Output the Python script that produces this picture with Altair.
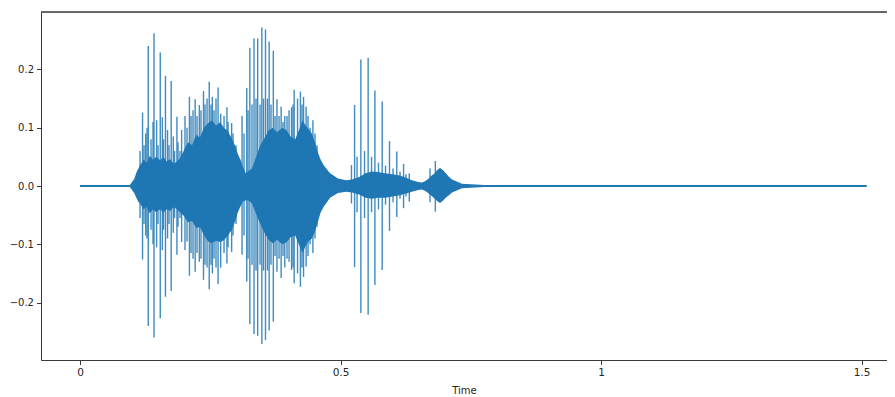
import altair as alt
import pandas as pd

# ---- data (time in s, amplitude) ----
base_t = [0.0, 1.51]
base_v = [0.0, 0.0]

# dense body of the waveform (upper / lower edge)
env_t = [0.096, 0.104, 0.109, 0.115, 0.122, 0.128, 0.134, 0.140, 0.146, 0.154,
         0.160, 0.166, 0.173, 0.180, 0.186, 0.192, 0.200, 0.207, 0.215, 0.223,
         0.230, 0.238, 0.246, 0.253, 0.261, 0.269, 0.276, 0.284, 0.292, 0.298,
         0.303, 0.308, 0.313, 0.318, 0.322, 0.330, 0.338, 0.346, 0.354, 0.362,
         0.370, 0.378, 0.388, 0.396, 0.404, 0.413, 0.420, 0.427, 0.432, 0.438,
         0.445, 0.451, 0.457, 0.462, 0.468, 0.480, 0.495, 0.511, 0.522, 0.537,
         0.548, 0.560, 0.572, 0.585, 0.600, 0.614, 0.626, 0.637, 0.649, 0.656,
         0.662, 0.668, 0.675, 0.681, 0.686, 0.691, 0.697, 0.702, 0.708, 0.714,
         0.722, 0.733, 0.750, 0.768, 0.806]
env_hi = [0.002, 0.012, 0.025, 0.035, 0.045, 0.040, 0.052, 0.045, 0.050, 0.044,
          0.050, 0.042, 0.046, 0.038, 0.042, 0.048, 0.062, 0.075, 0.070, 0.088,
          0.083, 0.100, 0.108, 0.113, 0.104, 0.110, 0.100, 0.094, 0.080, 0.068,
          0.055, 0.045, 0.032, 0.022, 0.025, 0.030, 0.050, 0.070, 0.082, 0.095,
          0.100, 0.092, 0.100, 0.096, 0.085, 0.080, 0.095, 0.113, 0.105, 0.098,
          0.090, 0.075, 0.056, 0.045, 0.035, 0.022, 0.013, 0.010, 0.011, 0.016,
          0.022, 0.025, 0.024, 0.022, 0.020, 0.018, 0.014, 0.010, 0.007, 0.006,
          0.008, 0.012, 0.018, 0.022, 0.028, 0.031, 0.027, 0.022, 0.016, 0.011,
          0.008, 0.004, 0.003, 0.002, 0.000]
env_lo = [-0.002, -0.012, -0.022, -0.030, -0.040, -0.036, -0.047, -0.040, -0.045, -0.040,
          -0.046, -0.040, -0.043, -0.036, -0.040, -0.045, -0.052, -0.062, -0.060, -0.072,
          -0.070, -0.085, -0.095, -0.098, -0.094, -0.096, -0.093, -0.085, -0.074, -0.060,
          -0.045, -0.035, -0.026, -0.025, -0.024, -0.030, -0.048, -0.065, -0.080, -0.092,
          -0.098, -0.092, -0.100, -0.097, -0.088, -0.085, -0.100, -0.115, -0.105, -0.095,
          -0.090, -0.078, -0.060, -0.045, -0.035, -0.020, -0.012, -0.010, -0.011, -0.015,
          -0.020, -0.022, -0.020, -0.020, -0.018, -0.016, -0.013, -0.010, -0.007, -0.006,
          -0.008, -0.012, -0.017, -0.022, -0.026, -0.029, -0.025, -0.020, -0.016, -0.011,
          -0.008, -0.004, -0.003, -0.002, 0.000]

# tall individual peaks
spike_t = [0.112, 0.120, 0.126, 0.131, 0.142, 0.147, 0.154, 0.158, 0.164, 0.168,
           0.175, 0.179, 0.186, 0.195,
           0.210, 0.221, 0.229, 0.237, 0.248, 0.254, 0.265, 0.270, 0.282, 0.291,
           0.311, 0.320, 0.326, 0.334, 0.341, 0.349, 0.356, 0.363, 0.371, 0.378,
           0.386, 0.393, 0.406, 0.411, 0.423, 0.429, 0.434, 0.447, 0.451,
           0.521, 0.527, 0.539, 0.553, 0.566, 0.580, 0.594, 0.608, 0.621, 0.632,
           0.682]
spike_hi = [0.027, 0.126, 0.090, 0.240, 0.262, 0.113, 0.229, 0.118, 0.189, 0.096,
            0.180, 0.085, 0.119, 0.096,
            0.153, 0.149, 0.139, 0.163, 0.179, 0.153, 0.169, 0.124, 0.135, 0.108,
            0.120, 0.168, 0.237, 0.253, 0.253, 0.272, 0.269, 0.248, 0.232, 0.149,
            0.136, 0.120, 0.135, 0.165, 0.162, 0.153, 0.136, 0.113, 0.090,
            0.036, 0.139, 0.217, 0.220, 0.164, 0.145, 0.077, 0.059, 0.038, 0.022,
            0.043]
spike_lo = [-0.027, -0.126, -0.085, -0.240, -0.260, -0.105, -0.227, -0.110, -0.190, -0.090,
            -0.180, -0.080, -0.118, -0.096,
            -0.154, -0.147, -0.130, -0.161, -0.177, -0.150, -0.168, -0.140, -0.133, -0.113,
            -0.118, -0.164, -0.237, -0.254, -0.257, -0.271, -0.264, -0.248, -0.233, -0.147,
            -0.158, -0.140, -0.144, -0.167, -0.173, -0.156, -0.138, -0.115, -0.090,
            -0.030, -0.139, -0.218, -0.221, -0.170, -0.144, -0.077, -0.053, -0.038, -0.027,
            -0.044]

# medium peaks inside the bursts
minor_t = [0.1152, 0.1228, 0.1286, 0.1363, 0.1401, 0.1497, 0.1603, 0.1708, 0.1814, 0.1881,
           0.1919, 0.2015, 0.2054, 0.2131, 0.2169, 0.2246, 0.2322, 0.2399, 0.2438, 0.2514,
           0.2572, 0.2610, 0.2764, 0.2841, 0.2937, 0.2994,
           0.3148, 0.3225, 0.3301, 0.3378, 0.3455, 0.3522, 0.3599, 0.3666, 0.3743, 0.3820,
           0.3896, 0.3973, 0.4012, 0.4088, 0.4175, 0.4261, 0.4376, 0.4415, 0.4549,
           0.5317, 0.5461, 0.5595, 0.5729, 0.5864, 0.6008, 0.6142, 0.6257,
           0.6718, 0.6910]
minor_hi = [0.060, 0.070, 0.100, 0.080, 0.110, 0.070, 0.080, 0.070, 0.060, 0.075,
            0.060, 0.120, 0.100, 0.120, 0.130, 0.120, 0.130, 0.140, 0.150, 0.140,
            0.130, 0.150, 0.120, 0.110, 0.090, 0.070,
            0.090, 0.130, 0.140, 0.150, 0.140, 0.150, 0.150, 0.140, 0.120, 0.120,
            0.110, 0.120, 0.130, 0.140, 0.150, 0.140, 0.120, 0.100, 0.070,
            0.050, 0.060, 0.050, 0.040, 0.035, 0.030, 0.025, 0.020,
            0.030, 0.030]
minor_lo = [-0.055, -0.065, -0.090, -0.075, -0.100, -0.065, -0.075, -0.065, -0.055, -0.070,
            -0.055, -0.110, -0.095, -0.115, -0.125, -0.115, -0.125, -0.135, -0.140, -0.135,
            -0.125, -0.140, -0.115, -0.105, -0.085, -0.065,
            -0.085, -0.125, -0.135, -0.145, -0.135, -0.145, -0.145, -0.135, -0.120, -0.125,
            -0.120, -0.125, -0.130, -0.140, -0.150, -0.140, -0.120, -0.100, -0.070,
            -0.045, -0.055, -0.045, -0.040, -0.032, -0.028, -0.022, -0.018,
            -0.028, -0.028]

x_ticks = [0, 0.5, 1, 1.5]
y_ticks = [-0.2, -0.1, 0.0, 0.1, 0.2]

BLUE = "#1f77b4"
FONT = "DejaVu Sans"
AX = "#3a3a3a"
TXT = "#262626"

W, H = 846, 348

base_df = pd.DataFrame({"t": base_t, "v": base_v})
env_df = pd.DataFrame({"t": env_t, "hi": env_hi, "lo": env_lo})
spike_df = pd.DataFrame({"t": spike_t + minor_t, "hi": spike_hi + minor_hi,
                         "lo": spike_lo + minor_lo})

xscale = alt.Scale(domain=[-0.0749, 1.5489], nice=False, zero=False)
yscale = alt.Scale(domain=[-0.2985, 0.2985], nice=False, zero=False)

xaxis = alt.Axis(values=x_ticks, format="~g", title="Time", grid=False,
                 tickSize=4.5, labelPadding=3, titlePadding=7,
                 titleFontSize=10, titleFontWeight="normal", titleFont=FONT,
                 labelFont=FONT, labelFontSize=10.5, labelColor=TXT,
                 titleColor=TXT, domainColor=AX, tickColor=AX, labelFlush=False)
yaxis = alt.Axis(values=y_ticks, format=".1f", title=None, grid=False,
                 tickSize=4.5, labelPadding=3, labelFont=FONT, labelFontSize=10,
                 labelColor=TXT, domainColor=AX, tickColor=AX, labelFlush=False)

base = alt.Chart(base_df).mark_line(color=BLUE, strokeWidth=1.8).encode(
    x=alt.X("t:Q", scale=xscale, axis=xaxis),
    y=alt.Y("v:Q", scale=yscale, axis=yaxis),
)

env = alt.Chart(env_df).mark_area(color=BLUE, opacity=1, interpolate="linear").encode(
    x=alt.X("t:Q", scale=xscale, axis=xaxis),
    y=alt.Y("hi:Q", scale=yscale, axis=yaxis),
    y2="lo:Q",
)

spikes = alt.Chart(spike_df).mark_rule(color=BLUE, strokeWidth=1.4, opacity=0.85).encode(
    x=alt.X("t:Q", scale=xscale, axis=xaxis),
    y=alt.Y("hi:Q", scale=yscale, axis=yaxis),
    y2="lo:Q",
)

# top frame line (the right frame edge lies outside the reference crop)
top_line = alt.Chart(base_df).mark_rule(color=AX, strokeWidth=1).encode(
    x=alt.value(0), x2=alt.value(W), y=alt.value(0)
)

chart = alt.layer(base, env, spikes, top_line).properties(
    width=W,
    height=H,
    padding={"left": 33, "top": 4, "right": 0, "bottom": 37},
    autosize=alt.AutoSizeParams(type="none"),
).configure_view(stroke=None).configure(background="white")

chart.save("out.html", embed_options={"renderer": "svg", "actions": False})
